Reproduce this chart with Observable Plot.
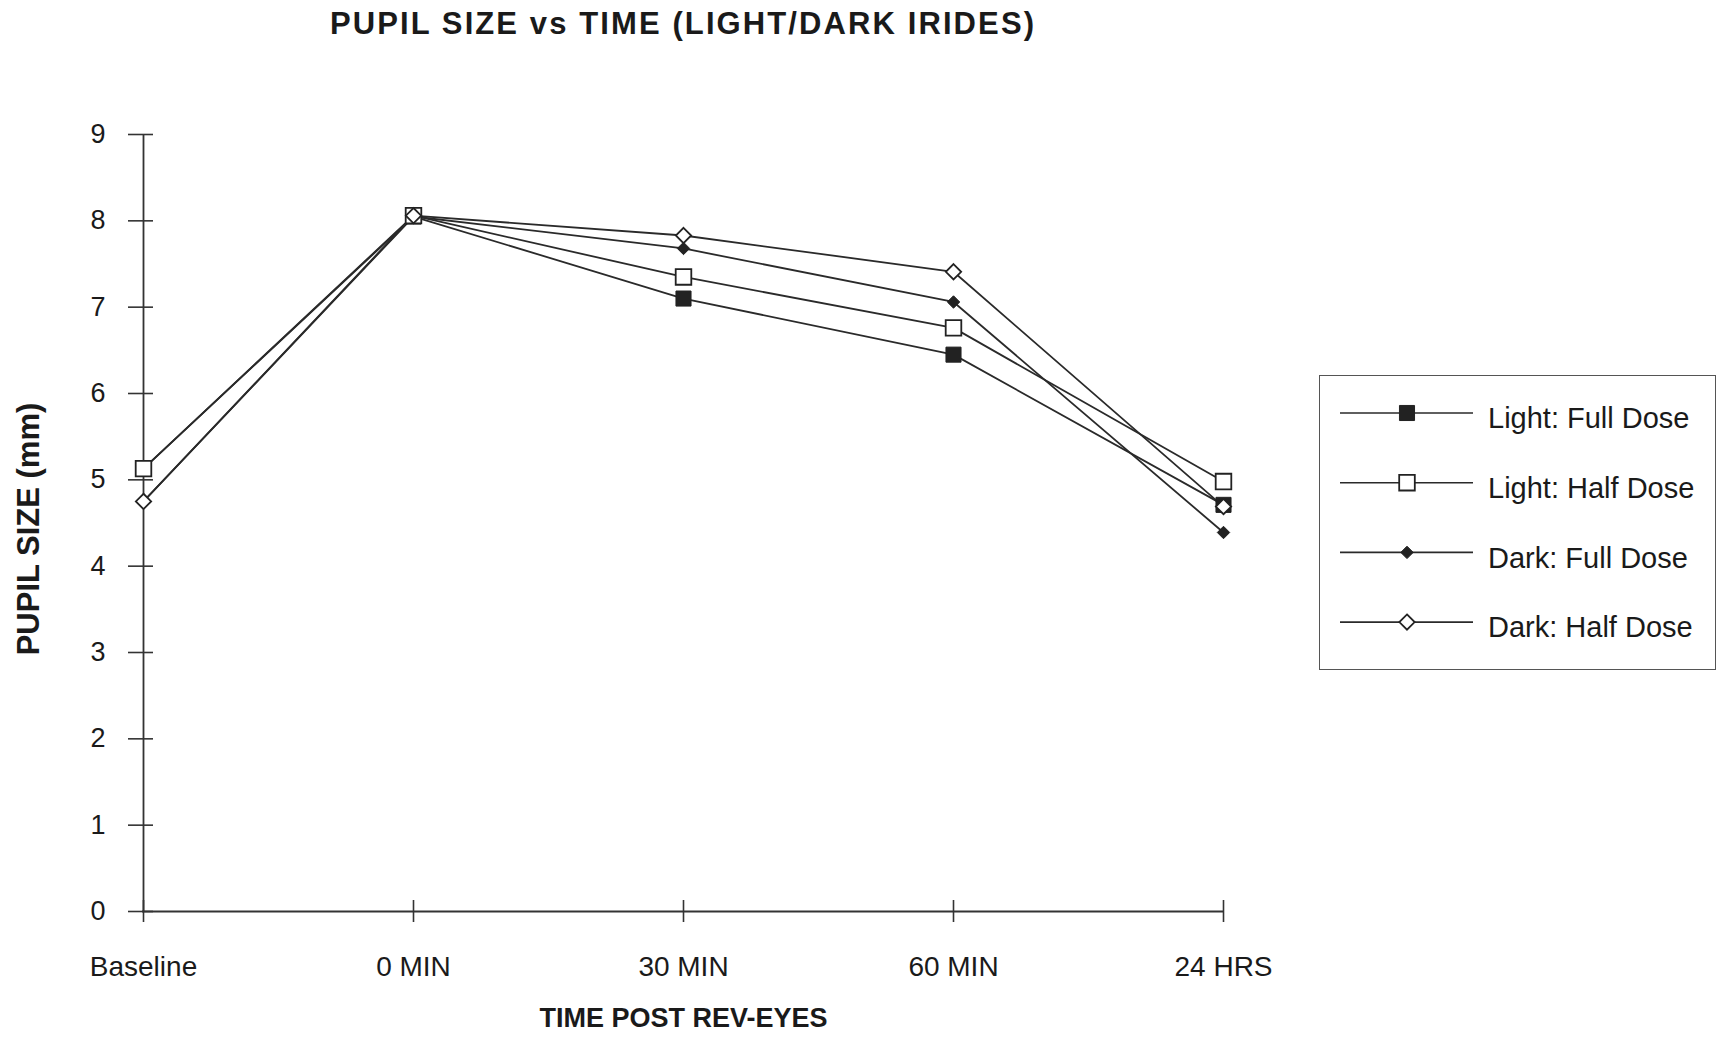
<!DOCTYPE html>
<html>
<head>
<meta charset="utf-8">
<script src="https://cdn.jsdelivr.net/npm/d3@7"></script>
<script src="https://cdn.jsdelivr.net/npm/@observablehq/plot@0.6"></script>
<style>
  html, body { margin: 0; padding: 0; background: #fff; }
  #chart {
    position: relative; width: 1716px; height: 1037px; overflow: hidden; background: #fff;
    font-family: "Liberation Sans", Arial, Helvetica, sans-serif; color: #1a1a1a;
  }
  #title {
    position: absolute; left: 0; top: 7.8px; width: 1366px; text-align: center;
    font-weight: bold; font-size: 31px; line-height: 31px; letter-spacing: 2.1px; white-space: nowrap;
  }
  #plot { position: absolute; left: 0; top: 60px; }
  #legend {
    position: absolute; left: 1319px; top: 375px; width: 397px; height: 295px;
    box-sizing: border-box; border: 1.5px solid #555; background: #fff;
  }
  #legend svg { position: absolute; left: 0; top: 0; }
</style>
</head>
<body>
<div id="chart">
  <div id="title"></div>
  <div id="plot"></div>
  <div id="legend"></div>
</div>
<script>
// Pupil size (mm) measured at each time point after Rev-Eyes
const categories = ["Baseline", "0 MIN", "30 MIN", "60 MIN", "24 HRS"];
const seriesNames = ["Light: Full Dose", "Light: Half Dose", "Dark: Full Dose", "Dark: Half Dose"];
const lightFull = [5.13, 8.05, 7.10, 6.45, 4.71];
const lightHalf = [5.13, 8.06, 7.35, 6.76, 4.98];
const darkFull  = [4.75, 8.05, 7.68, 7.06, 4.39];
const darkHalf  = [4.75, 8.06, 7.83, 7.41, 4.69];
const yTicks = [0, 1, 2, 3, 4, 5, 6, 7, 8, 9];

const titleText = "PUPIL SIZE vs TIME (LIGHT/DARK IRIDES)";
const xTitle = "TIME POST REV-EYES";
const yTitle = "PUPIL SIZE (mm)";

const seriesValues = [lightFull, lightHalf, darkFull, darkHalf];

// marker style for each series, in series order
const ink = "#222";
const markerStyles = [
  {symbol: "square",   r: 8.5, fill: ink,     strokeWidth: 1},
  {symbol: "square",   r: 8.8, fill: "white", strokeWidth: 1.8},
  {symbol: "diamond2", r: 5.6, fill: ink,     strokeWidth: 1},
  {symbol: "diamond2", r: 6.9, fill: "white", strokeWidth: 1.8}
];

const rows = seriesNames.flatMap((name, s) =>
  categories.map((time, i) => ({series: name, time, size: seriesValues[s][i]}))
);

document.getElementById("title").textContent = titleText;

const fontFamily = '"Liberation Sans", Arial, Helvetica, sans-serif';

const chart = Plot.plot({
  width: 1300,
  height: 977,
  marginLeft: 142,
  marginRight: 76,
  marginTop: 74,
  marginBottom: 126,
  x: {type: "point", domain: categories, padding: 0},
  y: {domain: [0, 9]},
  style: {fontFamily, fontSize: "27px", color: "#1a1a1a", background: "transparent", overflow: "visible"},
  marks: [
    // axis lines
    Plot.ruleY([0], {stroke: "#333", strokeWidth: 1.8}),
    Plot.ruleX([categories[0]], {y1: 0, y2: 9, stroke: "#333", strokeWidth: 1.8}),
    // ticks crossing the axis lines
    Plot.axisY({ticks: yTicks, tickSize: 25, dx: 11, tickFormat: () => "", stroke: "#333", strokeWidth: 1.6, label: null}),
    Plot.axisX({tickSize: 22, dy: -11, tickFormat: () => "", stroke: "#333", strokeWidth: 1.6, label: null}),
    // tick labels
    Plot.axisY({ticks: yTicks, tickSize: 0, tickPadding: 37, fontSize: 27, label: null}),
    Plot.axisX({tickSize: 0, tickPadding: 45, fontSize: 28, label: null}),
    // series lines
    Plot.line(rows, {x: "time", y: "size", z: "series", stroke: "#2a2a2a", strokeWidth: 1.8}),
    // series markers
    ...seriesNames.map((name, s) =>
      Plot.dot(rows.filter(d => d.series === name), {
        x: "time", y: "size",
        symbol: markerStyles[s].symbol, r: markerStyles[s].r,
        fill: markerStyles[s].fill, stroke: ink, strokeWidth: markerStyles[s].strokeWidth
      })
    ),
    // axis titles
    Plot.text([yTitle], {
      text: d => d, frameAnchor: "left", textAnchor: "middle", lineAnchor: "middle",
      dx: -113, dy: 6, rotate: -90, fontWeight: "bold", fontSize: 31
    }),
    Plot.text([xTitle], {
      text: d => d, frameAnchor: "bottom", textAnchor: "middle", lineAnchor: "middle",
      dy: 106.5, fontWeight: "bold", fontSize: 27
    })
  ]
});
document.getElementById("plot").appendChild(chart);

// legend: line sample, marker and series name per row
const legendSvg = d3.select("#legend").append("svg")
  .attr("width", 395).attr("height", 292)
  .style("font-family", fontFamily);

const symbolTypes = {square: d3.symbolSquare, diamond2: d3.symbolDiamond2};

seriesNames.forEach((name, s) => {
  const y = 37 + s * 69.7;
  const g = legendSvg.append("g");
  g.append("line")
    .attr("x1", 20).attr("x2", 153).attr("y1", y).attr("y2", y)
    .attr("stroke", "#2a2a2a").attr("stroke-width", 1.6);
  const st = markerStyles[s];
  g.append("path")
    .attr("transform", `translate(87,${y})`)
    .attr("d", d3.symbol(symbolTypes[st.symbol], st.r * st.r * Math.PI)())
    .attr("fill", st.fill).attr("stroke", ink).attr("stroke-width", st.strokeWidth);
  g.append("text")
    .attr("x", 168).attr("y", y + 5).attr("dy", "0.35em")
    .attr("font-size", 29).attr("fill", "#1a1a1a")
    .text(name);
});
</script>
</body>
</html>
